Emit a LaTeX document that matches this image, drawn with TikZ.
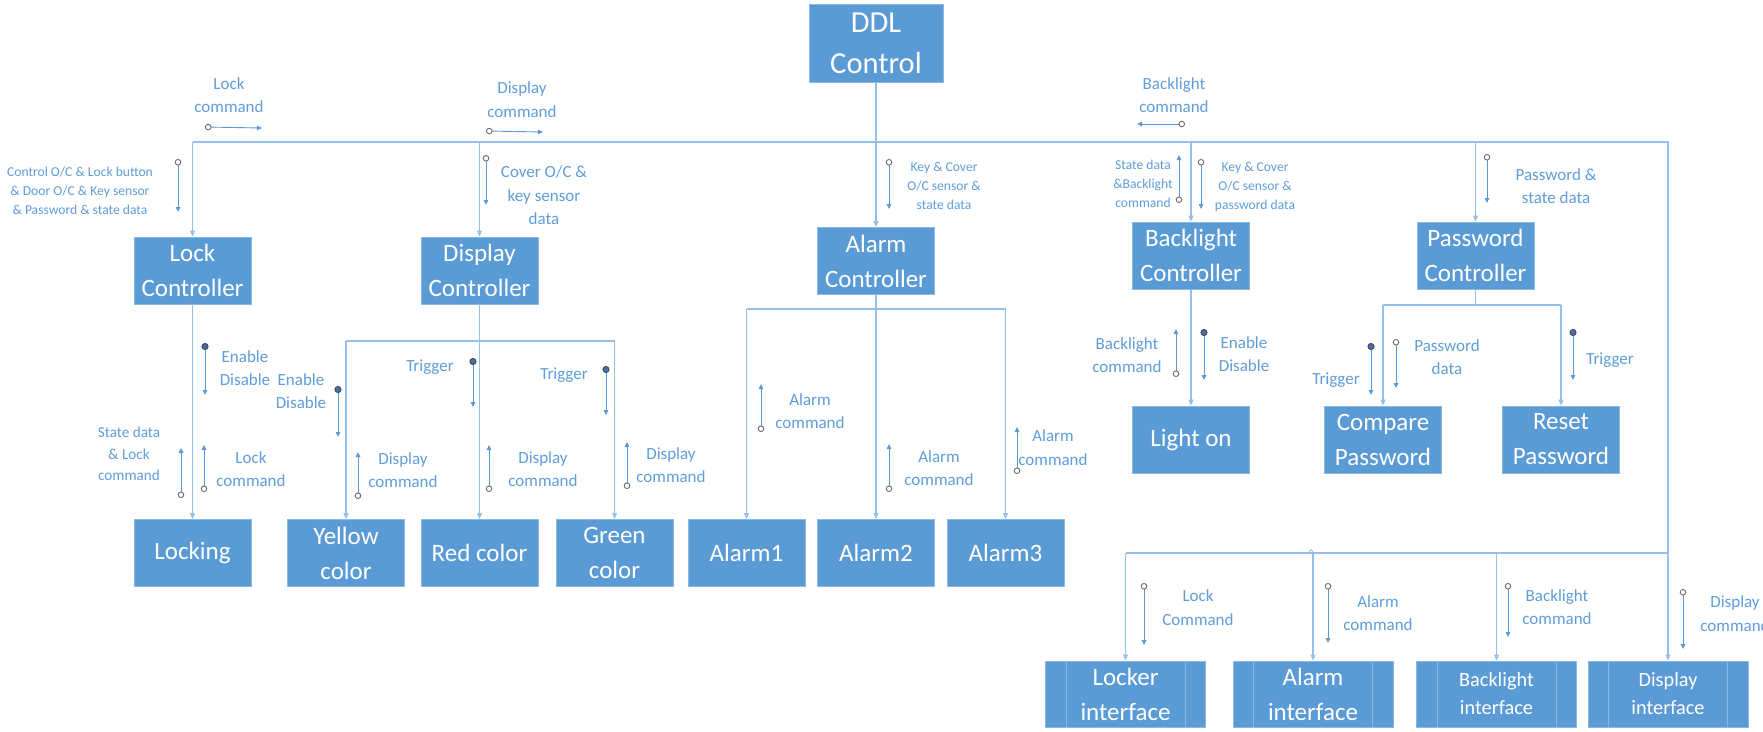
\documentclass[tikz,border=0pt]{standalone}
\usepackage{fontspec}
\setmainfont{Carlito}
\usetikzlibrary{arrows.meta}
\definecolor{boxblue}{RGB}{91,155,213}
\definecolor{boxedge}{RGB}{140,185,228}
\definecolor{wireblue}{RGB}{150,191,233}
\definecolor{sigblue}{RGB}{91,155,213}
\definecolor{txtblue}{RGB}{95,158,218}
\definecolor{dotblue}{RGB}{65,113,170}
\definecolor{ringgray}{RGB}{110,110,110}
\tikzset{
  blk/.style={draw=boxedge, line width=1pt, fill=boxblue, text=white,
    minimum width=117pt, minimum height=67pt, inner sep=0pt, align=center,
    font=\fontsize{25}{35}\selectfont},
  iface/.style={blk, minimum width=160pt, minimum height=66pt},
  innerln/.style={draw=boxedge, line width=1pt},
  wire/.style={draw=wireblue, line width=1.1pt},
  feed/.style={wire, -{Triangle[length=6pt,width=5pt]}},
  sigline/.style={draw=sigblue, line width=0.9pt},
  sigo/.style={sigline, {Circle[open,length=6.5pt,width=6.5pt,color=ringgray,line width=0.9pt]}-{Triangle[length=5pt,width=4.5pt]}},
  sigf/.style={sigline, {Circle[length=7pt,width=7pt,fill=dotblue,color=ringgray!60!black,line width=0.8pt]}-{Triangle[length=5pt,width=4.5pt]}},
  lbl/.style={text=txtblue, align=center, inner sep=0pt, font=\fontsize{17}{23.5}\selectfont},
  lbls/.style={lbl, font=\fontsize{13.6}{19}\selectfont},
  lblm/.style={lbl, font=\fontsize{15.2}{21.5}\selectfont},
}
\begin{document}
\begin{tikzpicture}[x=1pt,y=-1pt]
\useasboundingbox (0,0) rectangle (1763,731);
\fill[white] (0,0) rectangle (1763,731);

% ---------- boxes ----------
\node[blk, minimum width=134pt, minimum height=78pt, font=\fontsize{30.5}{41}\selectfont] (ddl) at (876,43) {DDL\\Control};
\node[blk] (lockc) at (192.5,270.5) {Lock\\Controller};
\node[blk] (dispc) at (479.5,270.5) {Display\\Controller};
\node[blk] (alarmc) at (876,261) {Alarm\\Controller};
\node[blk] (blc) at (1191,255.5) {Backlight\\Controller};
\node[blk] (pwc) at (1475.5,255.5) {Password\\Controller};
\node[blk] (locking) at (192.5,553) {Locking};
\node[blk] (yellow) at (346,553) {Yellow\\color};
\node[blk] (red) at (479.5,553) {Red color};
\node[blk] (green) at (614.5,553) {Green\\color};
\node[blk] (al1) at (746.5,553) {Alarm1};
\node[blk] (al2) at (876,553) {Alarm2};
\node[blk] (al3) at (1005.5,553) {Alarm3};
\node[blk] (light) at (1191,439.5) {Light on};
\node[blk] (cmp) at (1383,439.5) {Compare\\Password};
\node[blk] (rst) at (1561,439.5) {Reset\\Password};
\node[iface] (lif) at (1125.5,694) {Locker\\interface};
\node[iface] (aif) at (1313,694) {Alarm\\interface};
\node[iface, font=\fontsize{20.3}{28}\selectfont] (bif) at (1496.5,694) {Backlight\\interface};
\node[iface, font=\fontsize{20.3}{28}\selectfont] (dif) at (1668,694) {Display\\interface};
\foreach \n in {lif,aif,bif,dif}{
  \draw[innerln] ([xshift=21pt]\n.north west) -- ([xshift=21pt]\n.south west);
  \draw[innerln] ([xshift=-21pt]\n.north east) -- ([xshift=-21pt]\n.south east);
}

% ---------- connectors ----------
\coordinate (busY) at (0,142);
\coordinate (busR) at (1668,142);
\coordinate (busB) at (1668,553);
\coordinate (dbus) at (0,341);
\coordinate (abus) at (0,309);
\coordinate (pbus) at (0,305);
\coordinate (caret) at (1311,549.5);

\draw[feed] (ddl.south) -- (alarmc.north);
\draw[wire] (lockc.north |- busY) -- (busR) -- (busB) -- (lif.north |- busB);
\draw[feed] (lockc.north |- busY) -- (lockc.north);
\draw[feed] (dispc.north |- busY) -- (dispc.north);
\draw[feed] (blc.north |- busY) -- (blc.north);
\draw[feed] (pwc.north |- busY) -- (pwc.north);
\draw[feed] (lif.north |- busB) -- (lif.north);
\draw[feed] (aif.north |- busB) -- (aif.north);
\draw[feed] (bif.north |- busB) -- (bif.north);
\draw[feed] (busB) -- (dif.north);
\draw[wire, line width=0.8pt] ([xshift=-3pt,yshift=-4pt]caret) -- (caret) -- ([xshift=3pt,yshift=-4pt]caret);

\draw[feed] (lockc.south) -- (locking.north);

\draw[wire] (yellow.north |- dbus) -- (green.north |- dbus);
\draw[feed] (dispc.south) -- (red.north);
\draw[feed] (yellow.north |- dbus) -- (yellow.north);
\draw[feed] (green.north |- dbus) -- (green.north);

\draw[wire] (alarmc.south) -- (alarmc.south |- abus);
\draw[wire] (al1.north |- abus) -- (al3.north |- abus);
\draw[feed] (alarmc.south |- abus) -- (al2.north);
\draw[feed] (al1.north |- abus) -- (al1.north);
\draw[feed] (al3.north |- abus) -- (al3.north);

\draw[feed] (blc.south) -- (light.north);

\draw[wire] (pwc.south) -- (pwc.south |- pbus);
\draw[wire] (cmp.north |- pbus) -- (rst.north |- pbus);
\draw[feed] (cmp.north |- pbus) -- (cmp.north);
\draw[feed] (rst.north |- pbus) -- (rst.north);

% ---------- signal arrows ----------
\path (205,127) coordinate (s1a) (262,128) coordinate (s1b)
      (486,131) coordinate (s2a) (543,132) coordinate (s2b)
      (1185,124) coordinate (s3a) (1137,124) coordinate (s3b)
      (178,159) coordinate (s4a) (178,212) coordinate (s4b)
      (486,155) coordinate (s5a) (486,205) coordinate (s5b)
      (889,159) coordinate (s6a) (889,209) coordinate (s6b)
      (1179,203) coordinate (s7a) (1179,155) coordinate (s7b)
      (1201,159) coordinate (s8a) (1201,209) coordinate (s8b)
      (1487,154) coordinate (s9a) (1487,203) coordinate (s9b)
      (205,343) coordinate (s10a) (205,395) coordinate (s10b)
      (181,498) coordinate (s11a) (181,448) coordinate (s11b)
      (204,492) coordinate (s12a) (204,445) coordinate (s12b)
      (338,386) coordinate (s13a) (338,437) coordinate (s13b)
      (358,499) coordinate (s14a) (358,452) coordinate (s14b)
      (473,358) coordinate (s15a) (473,407) coordinate (s15b)
      (489,492) coordinate (s16a) (489,445) coordinate (s16b)
      (606,366) coordinate (s17a) (606,415) coordinate (s17b)
      (627,489) coordinate (s18a) (627,442) coordinate (s18b)
      (761,432) coordinate (s19a) (761,384) coordinate (s19b)
      (889,492) coordinate (s20a) (889,444) coordinate (s20b)
      (1017,474) coordinate (s21a) (1017,427) coordinate (s21b)
      (1176,377) coordinate (s22a) (1176,329) coordinate (s22b)
      (1204,329) coordinate (s23a) (1204,380) coordinate (s23b)
      (1371,343) coordinate (s24a) (1371,395) coordinate (s24b)
      (1396,339) coordinate (s25a) (1396,388) coordinate (s25b)
      (1573,329) coordinate (s26a) (1573,380) coordinate (s26b)
      (1144,583) coordinate (s27a) (1144,645) coordinate (s27b)
      (1328,583) coordinate (s28a) (1328,643) coordinate (s28b)
      (1508,583) coordinate (s29a) (1508,637) coordinate (s29b)
      (1683,589) coordinate (s30a) (1683,649) coordinate (s30b);
\foreach \i in {1,2,3,4,5,6,7,8,9,11,12,14,16,18,19,20,21,22,25,27,28,29,30}
  \draw[sigo] (s\i a) -- (s\i b);
\foreach \i in {10,13,15,17,23,24,26}
  \draw[sigf] (s\i a) -- (s\i b);

% ---------- labels ----------
\node[lbl] (t1) at (229,95) {Lock\\command};
\node[lbl] (t2) at (522,99.5) {Display\\command};
\node[lbl] (t3) at (1174,95) {Backlight\\command};
\node[lbls] (t4) at (80,191) {Control O/C \& Lock button\\\& Door O/C \& Key sensor\\\& Password \& state data};
\node[lbl] (t5) at (544,195.5) {Cover O/C \&\\key sensor\\data};
\node[lbls] (t6) at (944,186) {Key \& Cover\\O/C sensor \&\\state data};
\node[lbls] (t7) at (1143,184) {State data\\\&Backlight\\command};
\node[lbls] (t8) at (1255,187) {Key \& Cover\\O/C sensor \&\\password data};
\node[lbl] (t9) at (1556,186) {Password \&\\state data};
\node[lbl] (t10) at (245,368) {Enable\\Disable};
\node[lblm] (t11) at (129,454) {State data\\\& Lock\\command};
\node[lbl] (t12) at (251,469) {Lock\\command};
\node[lbl] (t13) at (301,391) {Enable\\Disable};
\node[lbl] (t14) at (403,470) {Display\\command};
\node[lbl] (t15) at (430,367) {Trigger};
\node[lbl] (t16) at (543,469) {Display\\command};
\node[lbl] (t17) at (564,375) {Trigger};
\node[lbl] (t18) at (671,465) {Display\\command};
\node[lbl] (t19) at (810,411) {Alarm\\command};
\node[lbl] (t20) at (939,468) {Alarm\\command};
\node[lbl] (t21) at (1053,447.5) {Alarm\\command};
\node[lbl] (t22) at (1127,355) {Backlight\\command};
\node[lbl] (t23) at (1244,354) {Enable\\Disable};
\node[lbl] (t24) at (1336,380) {Trigger};
\node[lbl] (t25) at (1447,357) {Password\\data};
\node[lbl] (t26) at (1610,360) {Trigger};
\node[lbl] (t27) at (1198,607.5) {Lock\\Command};
\node[lbl] (t28) at (1378,613) {Alarm\\command};
\node[lbl] (t29) at (1557,607) {Backlight\\command};
\node[lbl] (t30) at (1735,613.5) {Display\\command};
\end{tikzpicture}
\end{document}
